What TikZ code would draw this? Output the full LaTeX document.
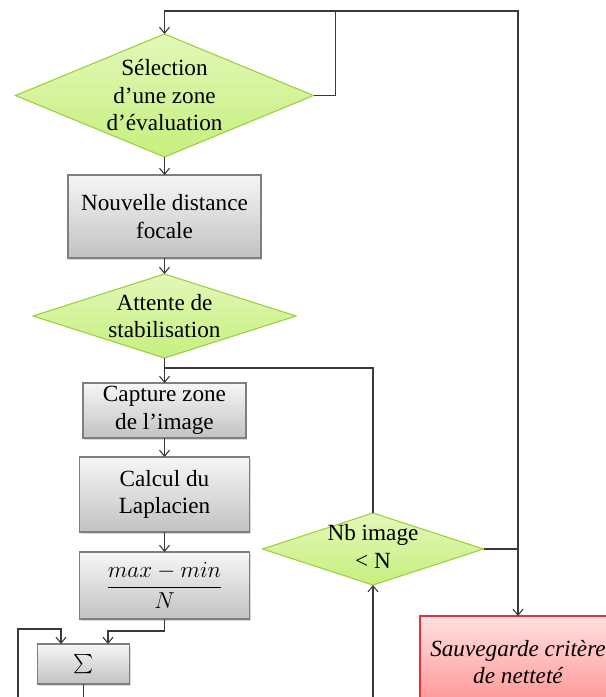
\documentclass[tikz,border=0pt]{standalone}
\usepackage{amsmath}
\usepackage{fontspec}
\setmainfont{Liberation Serif}
\usetikzlibrary{shapes.geometric,arrows.meta,shadows}
\definecolor{lnc}{HTML}{3A3A3A}
\definecolor{dgb}{HTML}{9CCF3C}
\definecolor{dgt}{HTML}{E2F8B8}
\definecolor{dgbot}{HTML}{C6EF7E}
\definecolor{bxb}{HTML}{7F7F7F}
\definecolor{bxt}{HTML}{F6F6F6}
\definecolor{bxbot}{HTML}{C2C2C2}
\definecolor{rdb}{HTML}{E8303E}
\definecolor{rdt}{HTML}{FFE0E0}
\definecolor{rdbot}{HTML}{FF8C8C}
\begin{document}
\begin{tikzpicture}[x=0.75pt,y=-0.75pt,
  conn/.style={draw=lnc,line width=0.8pt},
  arr/.style={conn,-{Straight Barb[length=4.5pt,width=7.5pt]}},
  dia/.style={diamond,inner sep=0pt,outer sep=0pt,draw=dgb,line width=0.8pt,top color=dgt,bottom color=dgbot},
  box/.style={rectangle,inner sep=0pt,outer sep=0pt,draw=bxb,line width=0.8pt,top color=bxt,bottom color=bxbot,
    drop shadow={shadow xshift=1pt,shadow yshift=-1.2pt,opacity=0.3}},
  redbox/.style={rectangle,inner sep=0pt,outer sep=0pt,draw=rdb,line width=0.8pt,top color=rdt,bottom color=rdbot},
  lbl/.style={align=center,inner sep=0pt,font=\fontsize{17.4}{20.6}\selectfont},
]
\useasboundingbox (0,0) rectangle (606,697);
\clip (0,0) rectangle (606,697);

% shapes
\node[dia,minimum width=223.5pt,minimum height=92.25pt] (d1) at (164.5,95.5) {};
\node[lbl] (t1) at (d1.center) {Sélection\\d’une zone\\d’évaluation};
\node[box,minimum width=144.75pt,minimum height=62.25pt] (b1) at (164.5,216.5) {};
\node[lbl] (tb1) at (b1.center) {Nouvelle distance\\focale};
\node[dia,minimum width=197.25pt,minimum height=63pt] (d2) at (164.5,316) {};
\node[lbl] (t2) at (d2.center) {Attente de\\stabilisation};
\node[box,minimum width=122.25pt,minimum height=41.25pt] (b2) at (164.5,410.5) {};
\node[lbl] (tb2) at (b2.center) {Capture zone\\de l’image};
\node[box,minimum width=127.5pt,minimum height=56.25pt] (b3) at (164.5,494.5) {};
\node[lbl] (tb3) at (b3.center) {Calcul du\\Laplacien};
\node[box,minimum width=127.5pt,minimum height=50.25pt] (b4) at (164.5,585.5) {};
\node[lbl,font=\fontsize{18.5}{22}\selectfont] (tb4) at (b4.center) {$\displaystyle\frac{max-min}{N}$};
\node[box,minimum width=69pt,minimum height=30pt] (b5) at (83.5,664) {};
\node[lbl,font=\fontsize{14}{16}\selectfont] (tb5) at (b5.center) {$\textstyle\sum$};
\node[dia,minimum width=165.75pt,minimum height=54pt] (d3) at (373,549) {};
\node[lbl] (t3) at ([yshift=2pt]d3.center) {Nb image\\< N};
\node[redbox,minimum width=147pt,minimum height=75pt] (red) at (518,666) {};
\node[lbl,font=\fontsize{17.4}{20.6}\selectfont\itshape] (tr) at (518,662) {Sauvegarde critère\\de netteté};

% coordinates
\coordinate (jtop) at (335.5,11);
\coordinate (rtop) at (518,11);
\coordinate (jmid) at (164.5,368);
\coordinate (b4j) at (108,631);
\coordinate (lb) at (18,705);
\coordinate (lt) at (18,629);
\coordinate (lr) at (61,629);
\coordinate (d3b) at (373,705);

% connectors
\draw[conn] (d1.east) -| (jtop);
\draw[arr] (d3.east) -| (red.north);
\draw[arr] (d3.east) -| (rtop) -| (d1.north);
\draw[arr] (d1.south) -- (b1.north);
\draw[arr] (b1.south) -- (d2.north);
\draw[arr] (d2.south) -- (b2.north);
\draw[conn] (d3.north) |- (jmid);
\draw[arr] (b2.south) -- (b3.north);
\draw[arr] (b3.south) -- (b4.north);
\draw[arr] (b4.south) |- (b4j) -- (b4j |- b5.north);
\draw[arr] (lb) -- (lt) -- (lr) -- (lr |- b5.north);
\draw[conn] (b5.south) -- (b5.south |- lb);
\draw[arr] (d3b) -- (d3.south);
\end{tikzpicture}
\end{document}
